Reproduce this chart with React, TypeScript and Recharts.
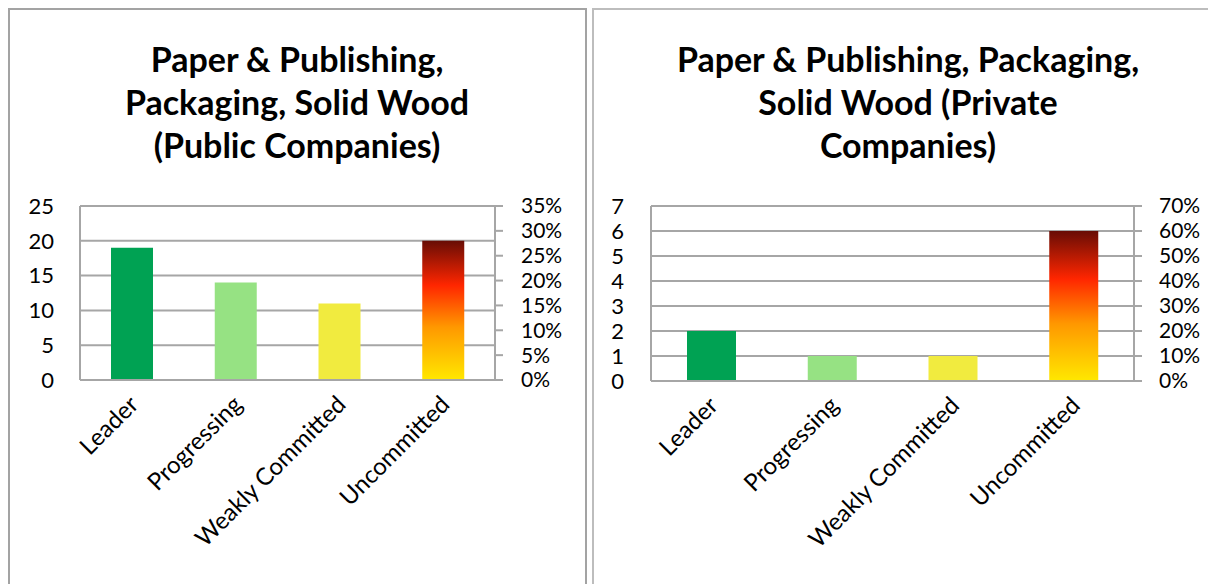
import { BarChart, Bar, Cell, XAxis, YAxis, CartesianGrid } from 'recharts'

const categories = ['Leader', 'Progressing', 'Weakly Committed', 'Uncommitted']
const publicCounts = [19, 14, 11, 20]
const privateCounts = [2, 1, 1, 6]

const publicCountTicks = [0, 5, 10, 15, 20, 25]
const publicPctTicks = [0, 0.05, 0.1, 0.15, 0.2, 0.25, 0.3, 0.35]
const privateCountTicks = [0, 1, 2, 3, 4, 5, 6, 7]
const privatePctTicks = [0, 0.1, 0.2, 0.3, 0.4, 0.5, 0.6, 0.7]

const publicTitle = ['Paper & Publishing,', 'Packaging, Solid Wood', '(Public Companies)']
const privateTitle = ['Paper & Publishing, Packaging,', 'Solid Wood (Private', 'Companies)']

const solidColors = ['#00a253', '#96e283', '#f1eb3f']

const FONT = 'Lato, "Open Sans", sans-serif'
const GRID = '#a6a6a6'

function CategoryTick({ x, y, payload }: any) {
  return (
    <g transform={`translate(${x + 8},${y + 24})`}>
      <text transform="rotate(-45)" textAnchor="end" fontSize={24} fontFamily={FONT} fill="#000">
        {payload.value}
      </text>
    </g>
  )
}

type PanelProps = {
  id: string
  counts: number[]
  countTicks: number[]
  pctTicks: number[]
  left: number
  width: number
  margin: { top: number; right: number; bottom: number; left: number }
  leftAxisWidth: number
  leftTickMargin: number
  rightAxisWidth: number
  rightTickMargin: number
  barSize: number
}

function Panel(p: PanelProps) {
  const data = categories.map((c, i) => ({ name: c, count: p.counts[i] }))
  const maxCount = p.countTicks[p.countTicks.length - 1]
  const maxPct = p.pctTicks[p.pctTicks.length - 1]
  return (
    <BarChart
      width={p.width}
      height={394}
      data={data}
      margin={p.margin}
      style={{ position: 'absolute', left: p.left, top: 182 }}
    >
      <defs>
        <linearGradient id={`grad-${p.id}`} x1="0" y1="0" x2="0" y2="1">
          <stop offset="0" stopColor="#680d05" />
          <stop offset="0.32" stopColor="#ff2600" />
          <stop offset="0.62" stopColor="#ff9800" />
          <stop offset="1" stopColor="#ffe800" />
        </linearGradient>
      </defs>
      <CartesianGrid vertical={false} stroke={GRID} strokeWidth={2} yAxisId="count" />
      <XAxis
        dataKey="name"
        height={190}
        interval={0}
        axisLine={{ stroke: GRID, strokeWidth: 2 }}
        tickLine={false}
        tickSize={0}
        tick={<CategoryTick />}
      />
      <YAxis
        yAxisId="count"
        width={p.leftAxisWidth}
        domain={[0, maxCount]}
        ticks={p.countTicks}
        interval={0}
        axisLine={{ stroke: GRID, strokeWidth: 2 }}
        tickLine={false}
        tickMargin={p.leftTickMargin}
        tick={{ fontSize: 22, fontFamily: FONT, fill: '#000' }}
      />
      <YAxis
        yAxisId="pct"
        orientation="right"
        width={p.rightAxisWidth}
        domain={[0, maxPct]}
        allowDataOverflow
        ticks={p.pctTicks}
        interval={0}
        axisLine={{ stroke: GRID, strokeWidth: 2 }}
        tickLine={{ stroke: GRID, strokeWidth: 2 }}
        tickSize={8}
        tickMargin={p.rightTickMargin}
        tickFormatter={(v: number) => `${Math.round(v * 100)}%`}
        tick={{ fontSize: 21, fontFamily: FONT, fill: '#000' }}
      />
      <Bar yAxisId="count" dataKey="count" barSize={p.barSize} isAnimationActive={false}>
        {data.map((d, i) => (
          <Cell key={d.name} fill={i < solidColors.length ? solidColors[i] : `url(#grad-${p.id})`} />
        ))}
      </Bar>
    </BarChart>
  )
}

function Title({ lines, left, width }: { lines: string[]; left: number; width: number }) {
  return (
    <div
      style={{
        position: 'absolute',
        left,
        top: 29,
        width,
        textAlign: 'center',
        fontFamily: FONT,
        fontWeight: 700,
        fontSize: 34,
        lineHeight: '43px',
        color: '#000',
      }}
    >
      {lines.map(l => (
        <div key={l}>{l}</div>
      ))}
    </div>
  )
}

export default function App() {
  return (
    <div style={{ position: 'relative', width: 1208, height: 576, overflow: 'hidden', background: '#fff' }}>
      <div style={{ position: 'absolute', left: 0, top: 0, width: 575, height: 700, border: '2px solid #a3a3a3' }} />
      <div style={{ position: 'absolute', left: 584, top: 0, width: 700, height: 700, border: '2px solid #bdbdbd' }} />
      <Title lines={publicTitle} left={0} width={578} />
      <Title lines={privateTitle} left={600} width={600} />
      <Panel
        id="public"
        counts={publicCounts}
        countTicks={publicCountTicks}
        pctTicks={publicPctTicks}
        left={0}
        width={578}
        margin={{ top: 16, right: 9, bottom: 14, left: 22 }}
        leftAxisWidth={50}
        leftTickMargin={20}
        rightAxisWidth={82}
        rightTickMargin={18}
        barSize={42}
      />
      <Panel
        id="private"
        counts={privateCounts}
        countTicks={privateCountTicks}
        pctTicks={privatePctTicks}
        left={585}
        width={623}
        margin={{ top: 16, right: 4, bottom: 13, left: 18 }}
        leftAxisWidth={40}
        leftTickMargin={21}
        rightAxisWidth={78}
        rightTickMargin={17}
        barSize={49}
      />
    </div>
  )
}
